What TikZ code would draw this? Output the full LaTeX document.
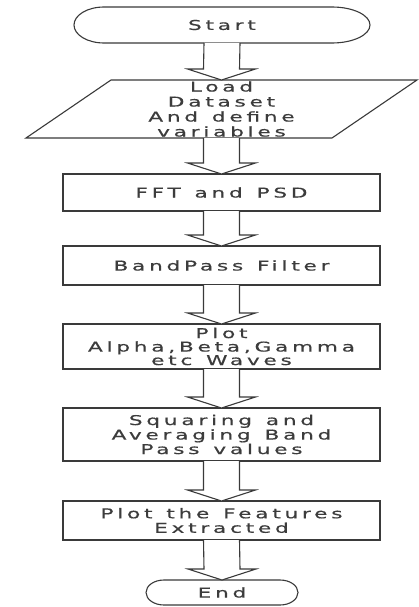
\documentclass[tikz,border=0pt]{standalone}
\usepackage{fontspec}
\setmainfont{DejaVu Sans}
\newfontfamily\widefont[FakeStretch=1.6,LetterSpace=28,FakeBold=0.5,WordSpace=1.3]{DejaVu Sans}
\usetikzlibrary{calc}
\definecolor{ln}{HTML}{3A3A3A}
\definecolor{tx}{HTML}{3C3C3C}
\newcommand\blockarrow[2]{%
  \draw[blk] ($(#1.south)+(-18,0)$) -- ($(#2.north)+(-18,-11)$) -- ($(#2.north)+(-34,-11)$)
    -- (#2.north) -- ($(#2.north)+(34,-11)$) -- ($(#2.north)+(18,-11)$) -- ($(#1.south)+(18,0)$);}
\begin{document}
\begin{tikzpicture}[x=1pt,y=-1pt,
  every node/.style={font=\widefont\fontsize{13.5}{14.5}\selectfont, text=tx, align=center, inner sep=0pt, outer sep=0pt},
  box/.style={draw=ln, line width=1.1pt, minimum width=317pt},
  lbl/.style={inner sep=0pt},
  outline/.style={draw=ln, line width=1.1pt, fill=white},
  blk/.style={draw=ln, line width=1.1pt, fill=white, line join=miter}]
\useasboundingbox[fill=white] (0,0) rectangle (419,607);

% Start terminal
\node[lbl, minimum width=296pt, minimum height=36pt] (start) at (222,25) {};
\draw[outline] ($(start.north west)+(30,0)$) -- ($(start.north east)+(-38,0)$)
  arc[start angle=90,end angle=-90,x radius=38pt,y radius=18pt]
  -- ($(start.south west)+(30,0)$)
  arc[start angle=270,end angle=90,x radius=30pt,y radius=18pt] -- cycle;
\node[lbl] at (start.center) {Start};

% Load parallelogram
\node[lbl, minimum height=58pt] (load) at (221.5,109) {};
\draw[outline] ($(load.north)+(-110.5,0)$) -- ($(load.north)+(195.5,0)$)
  -- ($(load.south)+(110.5,0)$) -- ($(load.south)+(-195.5,0)$) -- cycle;
\node[lbl, font=\widefont\fontsize{13.5}{15}\selectfont] at (load.center) {Load\\Dataset\\And define\\variables};

% Process boxes
\node[box, minimum height=37pt] (fft) at (221.5,192.5) {FFT and PSD};
\node[box, minimum height=39pt] (band) at (221.5,265.5) {BandPass Filter};
\node[box, minimum height=45pt, font=\widefont\fontsize{13.5}{13.5}\selectfont] (plot) at (221.5,346.5) {Plot\\Alpha,Beta,Gamma\\etc Waves};
\node[box, minimum height=53pt] (sq) at (221.5,434.5) {Squaring and\\Averaging Band\\Pass values};
\node[box, minimum height=39pt] (feat) at (221.5,520.5) {Plot the Features\\Extracted};

% End terminal
\node[lbl, minimum width=152pt, minimum height=25pt] (stop) at (222,592.5) {};
\draw[outline] ($(stop.north west)+(18,0)$) -- ($(stop.north east)+(-18,0)$)
  arc[start angle=90,end angle=-90,x radius=18pt,y radius=12.5pt]
  -- ($(stop.south west)+(18,0)$)
  arc[start angle=270,end angle=90,x radius=18pt,y radius=12.5pt] -- cycle;
\node[lbl] at (stop.center) {End};

% Block arrows
\blockarrow{start}{load}
\blockarrow{load}{fft}
\blockarrow{fft}{band}
\blockarrow{band}{plot}
\blockarrow{plot}{sq}
\blockarrow{sq}{feat}
\blockarrow{feat}{stop}
\end{tikzpicture}
\end{document}
